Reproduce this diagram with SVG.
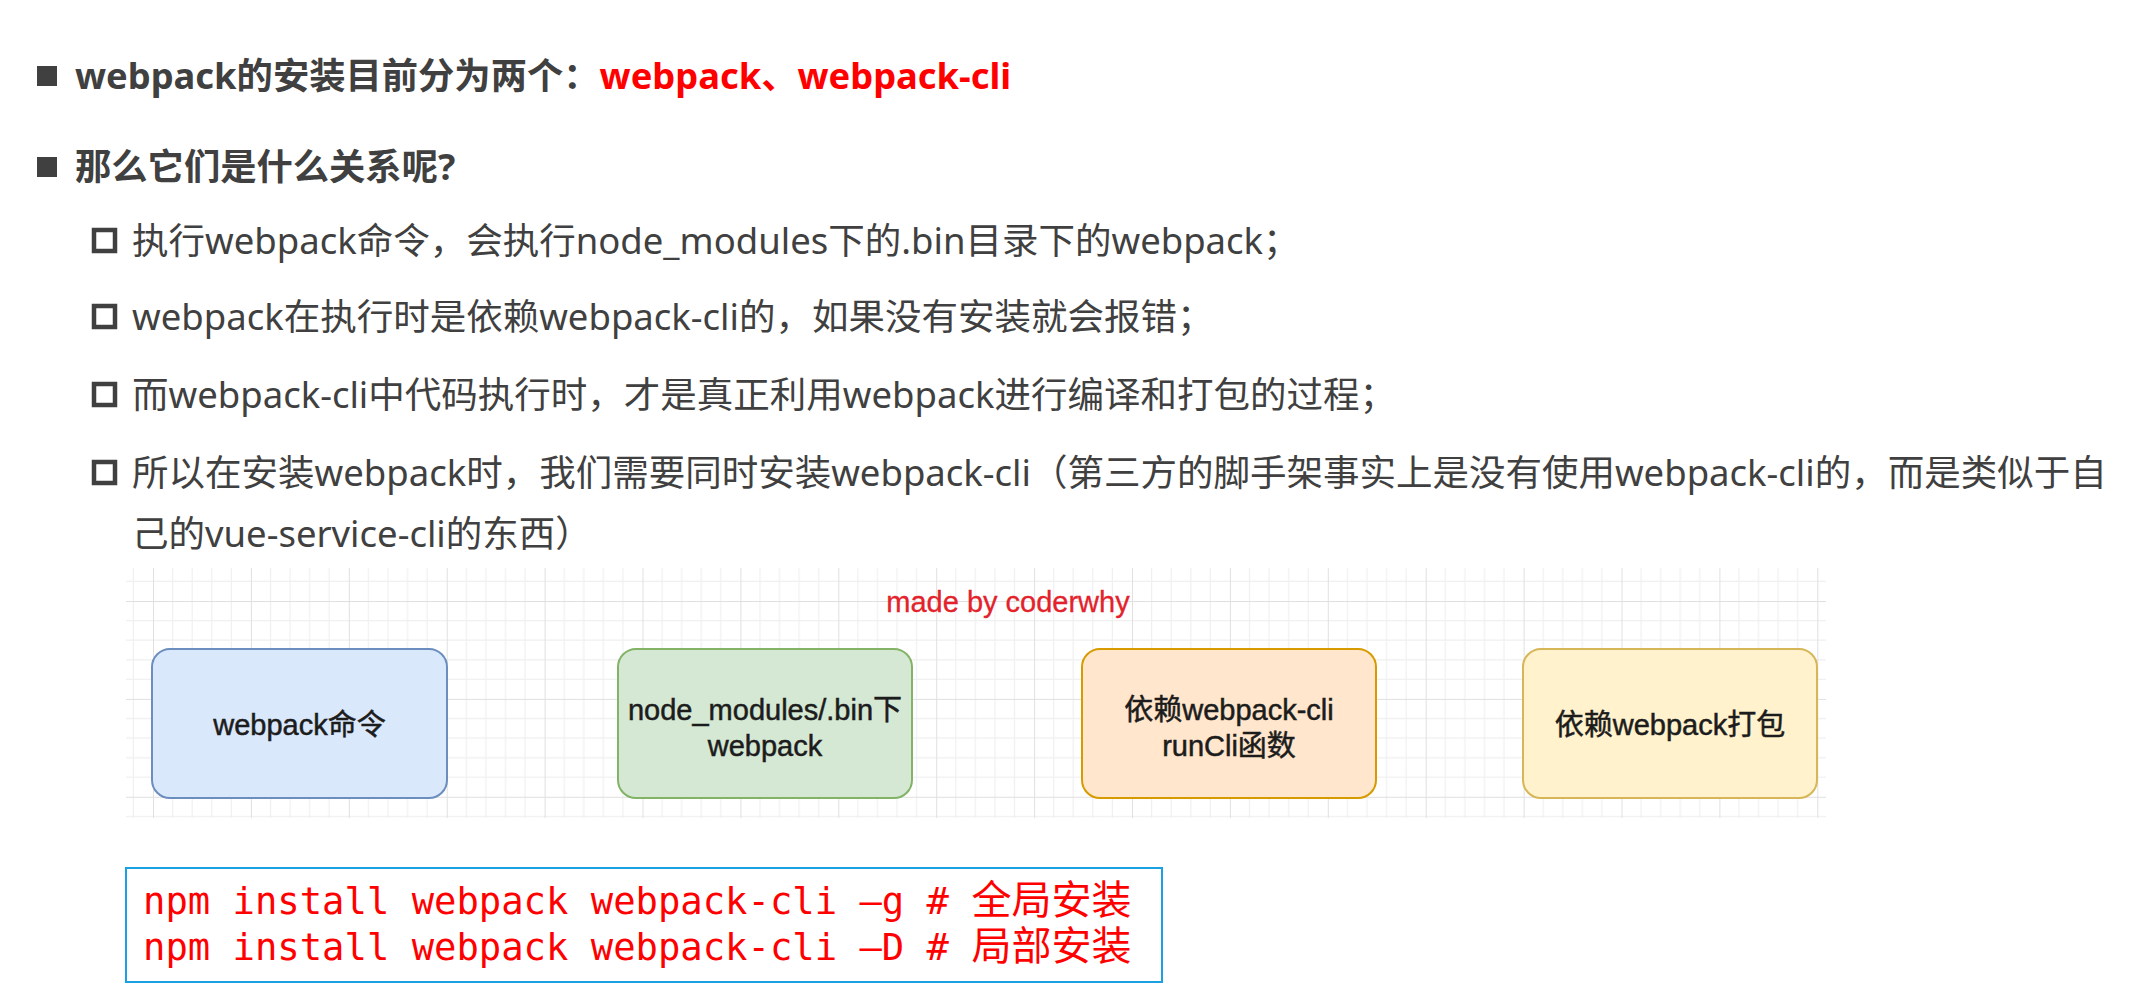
<svg xmlns="http://www.w3.org/2000/svg" width="2136" height="984" viewBox="0 0 2136 984">
<defs>
<style>
.t{font-family:"Noto Sans","Noto Sans CJK SC",sans-serif;fill:#404040}
.h{font-size:36.3px;font-weight:700}
.s{font-size:36.5px}
.red{fill:#ff0000}
.bx{font-family:"Liberation Sans","Noto Sans CJK SC",sans-serif;font-size:29px;fill:#1c1c1c;stroke:#1c1c1c;stroke-width:0.5;text-anchor:middle}
.code{font-family:"DejaVu Sans Mono","Noto Sans CJK SC",monospace;font-size:37.2px;fill:#ff0000}
.cjk{font-family:"Noto Sans CJK SC",sans-serif;font-size:40px}
.node{stroke-width:2}
</style>
<pattern id="grid" x="153" y="601" width="97.9" height="97.9" patternUnits="userSpaceOnUse">
<path d="M19.58 0V97.9M39.16 0V97.9M58.74 0V97.9M78.32 0V97.9M0 19.58H97.9M0 39.16H97.9M0 58.74H97.9M0 78.32H97.9" stroke="#f0f0f0" stroke-width="1.2" fill="none"/>
<path d="M0 0V97.9M0 0H97.9" stroke="#e0e0e0" stroke-width="2" fill="none"/>
</pattern>
</defs>
<rect width="2136" height="984" fill="#ffffff"/>

<g id="bullets">
<rect x="37" y="66" width="20" height="20" fill="#404040"/>
<rect x="37" y="157" width="20" height="20" fill="#404040"/>
<rect x="94" y="230" width="21" height="21" fill="none" stroke="#404040" stroke-width="4.5"/>
<rect x="94" y="306" width="21" height="21" fill="none" stroke="#404040" stroke-width="4.5"/>
<rect x="94" y="384" width="21" height="21" fill="none" stroke="#404040" stroke-width="4.5"/>
<rect x="94" y="462" width="21" height="21" fill="none" stroke="#404040" stroke-width="4.5"/>
</g>

<g id="text">
<text class="t h" x="75" y="89">webpack的安装目前分为两个：<tspan class="red">webpack、webpack-cli</tspan></text>
<text class="t h" x="75" y="180">那么它们是什么关系呢?</text>
<text class="t s" x="132" y="254">执行webpack命令，会执行node_modules下的.bin目录下的webpack；</text>
<text class="t s" x="132" y="330">webpack在执行时是依赖webpack-cli的，如果没有安装就会报错；</text>
<text class="t s" x="132" y="408">而webpack-cli中代码执行时，才是真正利用webpack进行编译和打包的过程；</text>
<text class="t s" x="132" y="486">所以在安装webpack时，我们需要同时安装webpack-cli（第三方的脚手架事实上是没有使用webpack-cli的，而是类似于自</text>
<text class="t s" x="132" y="547">己的vue-service-cli的东西）</text>
</g>

<g id="diagram-bg">
<rect x="126" y="568" width="1700" height="250" fill="url(#grid)"/>
<text x="1008" y="612" font-family="Liberation Sans, sans-serif" font-size="29" fill="#e3222b" stroke="#e3222b" stroke-width="0.3" text-anchor="middle">made by coderwhy</text>
</g>

<g id="connectors"></g>

<g id="node-webpack-cmd">
<rect class="node" x="152" y="649" width="295" height="149" rx="18" fill="#dae8fc" stroke="#6c8ebf"/>
<text class="bx" x="299.5" y="735">webpack命令</text>
</g>
<g id="node-bin">
<rect class="node" x="618" y="649" width="294" height="149" rx="18" fill="#d5e8d4" stroke="#82b366"/>
<text class="bx" x="765" y="720">node_modules/.bin下<tspan x="765" dy="36">webpack</tspan></text>
</g>
<g id="node-cli">
<rect class="node" x="1082" y="649" width="294" height="149" rx="18" fill="#ffe6cc" stroke="#d79b00"/>
<text class="bx" x="1229" y="720">依赖webpack-cli<tspan x="1229" dy="36">runCli函数</tspan></text>
</g>
<g id="node-pack">
<rect class="node" x="1523" y="649" width="294" height="149" rx="18" fill="#fff2cc" stroke="#d6b656"/>
<text class="bx" x="1670" y="735">依赖webpack打包</text>
</g>

<g id="code">
<rect x="126" y="868" width="1036" height="114" fill="#ffffff" stroke="#1ba1e2" stroke-width="2"/>
<text class="code" x="143" y="914">npm install webpack webpack-cli –g # <tspan class="cjk">全局安装</tspan><tspan x="143" y="960">npm install webpack webpack-cli –D # </tspan><tspan class="cjk">局部安装</tspan></text>
</g>
</svg>
